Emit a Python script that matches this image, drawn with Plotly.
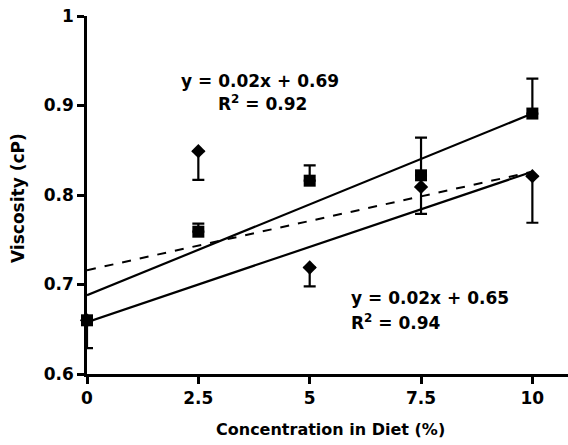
import plotly.graph_objects as go

# Data
conc = [0, 2.5, 5, 7.5, 10]
square_vals = [0.660, 0.759, 0.816, 0.822, 0.891]
square_err_up = [0.0, 0.009, 0.017, 0.042, 0.039]
diamond_vals = [0.660, 0.849, 0.719, 0.809, 0.821]
diamond_err_down = [0.031, 0.032, 0.021, 0.030, 0.052]

trend_x = [0, 10]
trend_upper = [0.688, 0.891]
trend_lower = [0.658, 0.826]
trend_dashed = [0.716, 0.826]

x_ticks = [0, 2.5, 5, 7.5, 10]
x_tick_labels = ["0", "2.5", "5", "7.5", "10"]
y_ticks = [0.6, 0.7, 0.8, 0.9, 1.0]
y_tick_labels = ["0.6", "0.7", "0.8", "0.9", "1"]

FONT = "DejaVu Sans"

# the page body margin is removed in the written html, so the figure fills the window
W, H = 568, 445
L, T = 87, 16
B = H - 374
R = 0
pw, ph = W - L - R, H - T - B


def px_to_paper(px, py):
    return (px - L) / pw, 1 - (py - T) / ph


fig = go.Figure()

fig.add_trace(go.Scatter(x=trend_x, y=trend_dashed, mode="lines",
                         line=dict(color="black", width=2, dash="dash"),
                         showlegend=False, hoverinfo="skip"))
fig.add_trace(go.Scatter(x=trend_x, y=trend_upper, mode="lines",
                         line=dict(color="black", width=2.2),
                         showlegend=False, hoverinfo="skip"))
fig.add_trace(go.Scatter(x=trend_x, y=trend_lower, mode="lines",
                         line=dict(color="black", width=2.2),
                         showlegend=False, hoverinfo="skip"))

fig.add_trace(go.Scatter(
    x=conc, y=diamond_vals, mode="markers",
    marker=dict(symbol="diamond", size=11, color="black"),
    error_y=dict(type="data", symmetric=False, array=[0] * len(conc),
                 arrayminus=diamond_err_down, color="black", thickness=2.2, width=6),
    showlegend=False, cliponaxis=False))
fig.add_trace(go.Scatter(
    x=conc, y=square_vals, mode="markers",
    marker=dict(symbol="square", size=12, color="black"),
    error_y=dict(type="data", symmetric=False, array=square_err_up,
                 arrayminus=[0] * len(conc), color="black", thickness=2.2, width=6),
    showlegend=False, cliponaxis=False))

ann_font = dict(family=FONT, size=17, color="black", weight="bold")
annots = [
    ("y = 0.02x + 0.69", 260, 81, "center"),
    ("R<sup>2</sup> = 0.92", 262, 103, "center"),
    ("y = 0.02x + 0.65", 349, 298, "left"),
    ("R<sup>2</sup> = 0.94", 349, 322, "left"),
]
for text, px, py, al in annots:
    xp, yp = px_to_paper(px, py)
    fig.add_annotation(x=xp, y=yp, xref="paper", yref="paper", text=text,
                       showarrow=False, font=ann_font,
                       xanchor="center" if al == "center" else "left", yanchor="middle")

# axis titles
xp, yp = px_to_paper(330, 429)
fig.add_annotation(x=xp, y=yp, xref="paper", yref="paper",
                   text="Concentration in Diet (%)", showarrow=False,
                   font=dict(family=FONT, size=16, color="black", weight="bold"),
                   xanchor="center", yanchor="middle")
xp, yp = px_to_paper(18, 198)
fig.add_annotation(x=xp, y=yp, xref="paper", yref="paper",
                   text="Viscosity (cP)", showarrow=False, textangle=-90,
                   font=dict(family=FONT, size=17, color="black", weight="bold"),
                   xanchor="center", yanchor="middle")

fig.update_layout(
    width=W, height=H,
    margin=dict(l=L, r=R, t=T, b=B, autoexpand=False),
    plot_bgcolor="white", paper_bgcolor="white",
    font=dict(family=FONT, color="black"),
    xaxis=dict(range=[0, 10.8], tickvals=x_ticks, ticktext=x_tick_labels,
               automargin=False, ticklabeloverflow="allow",
               showgrid=False, zeroline=False, showline=True, linecolor="black",
               linewidth=2.5, ticks="outside", ticklen=7, tickwidth=2.5,
               tickcolor="black",
               tickfont=dict(family=FONT, size=17, weight="bold")),
    yaxis=dict(range=[0.6, 1.0], tickvals=y_ticks, ticktext=y_tick_labels,
               automargin=False, ticklabeloverflow="allow",
               showgrid=False, zeroline=False, showline=True, linecolor="black",
               linewidth=2.5, ticks="outside", ticklen=7, tickwidth=2.5,
               tickcolor="black",
               tickfont=dict(family=FONT, size=17, weight="bold")),
)

fig.write_html("out.html", config={"displayModeBar": False},
               post_script="document.body.style.margin='0';")
